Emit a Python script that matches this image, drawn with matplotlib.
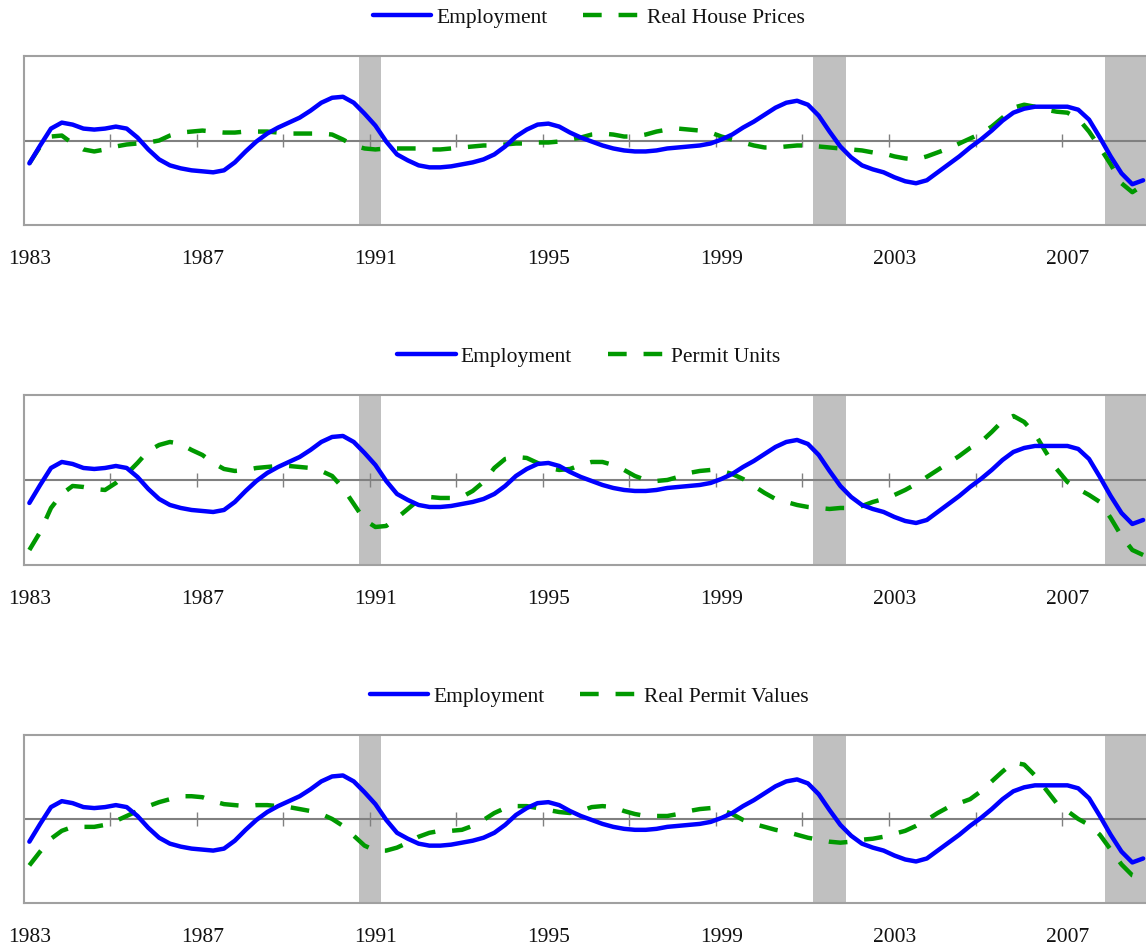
import numpy as np
import matplotlib
matplotlib.use("Agg")
import matplotlib.pyplot as plt

plt.rcParams['font.family'] = ['Liberation Serif', 'DejaVu Serif']

# quarterly observations, 1983Q1 .. 2008Q4 (plotted at mid-quarter)
quarters = 1983.125 + 0.25 * np.arange(104)

# cyclical components (index units), 2 years per row
employment = [
    -23, -5, 12, 18, 16, 12, 11, 12,
    14, 12, 3, -9, -19, -25, -28, -30,
    -31, -32, -30, -22, -11, -1, 7, 13,
    18, 23, 30, 38, 43, 44, 38, 27,
    15, -1, -14, -20, -25, -27, -27, -26,
    -24, -22, -19, -14, -6, 4, 11, 16,
    17, 14, 8, 3, -1, -5, -8, -10,
    -11, -11, -10, -8, -7, -6, -5, -3,
    1, 6, 13, 19, 26, 33, 38, 40,
    36, 25, 9, -6, -17, -25, -29, -32,
    -37, -41, -43, -40, -32, -24, -16, -7,
    1, 10, 20, 28, 32, 34, 34, 34,
    34, 31, 21, 3, -16, -33, -44, -40,
]
house_prices = [
    -23, -6, 4, 5, -3, -9, -11, -9,
    -6, -4, -3, -2, 0, 5, 8, 9,
    10, 9, 8, 8, 9, 9, 9, 8,
    7, 7, 7, 7, 6, 1, -5, -8,
    -9, -8, -8, -8, -8, -9, -9, -8,
    -7, -6, -5, -5, -4, -3, -3, -2,
    -2, -1, 1, 3, 6, 7, 6, 4,
    4, 6, 9, 11, 12, 11, 10, 8,
    4, 1, -2, -5, -7, -7, -6, -5,
    -5, -6, -7, -8, -9, -10, -12, -13,
    -16, -18, -19, -16, -12, -8, -3, 2,
    7, 14, 23, 33, 36, 34, 31, 29,
    28, 22, 9, -7, -24, -43, -52, -45,
]
permit_units = [
    -70, -52, -28, -14, -6, -7, -9, -10,
    -3, 6, 17, 29, 35, 38, 36, 30,
    25, 17, 11, 9, 10, 12, 13, 14,
    14, 13, 12, 9, 4, -8, -24, -40,
    -47, -46, -38, -29, -20, -17, -18, -18,
    -17, -11, -2, 12, 21, 23, 22, 17,
    12, 10, 11, 15, 18, 18, 15, 10,
    4, 0, -1, 0, 3, 7, 9, 10,
    9, 6, 1, -6, -13, -19, -22, -25,
    -27, -28, -29, -28, -28, -26, -22, -19,
    -15, -10, -4, 3, 10, 17, 24, 32,
    38, 48, 59, 64, 58, 46, 28, 11,
    -2, -9, -15, -22, -38, -56, -70, -75,
]
permit_values = [
    -47, -33, -20, -12, -8, -8, -8, -6,
    -2, 3, 8, 13, 17, 20, 23, 23,
    22, 18, 15, 14, 13, 14, 14, 13,
    12, 10, 8, 5, 0, -7, -17, -27,
    -32, -32, -29, -24, -18, -14, -12, -12,
    -11, -7, -1, 6, 11, 13, 13, 11,
    9, 7, 6, 8, 12, 13, 12, 8,
    5, 3, 3, 3, 5, 8, 10, 11,
    9, 5, -1, -5, -8, -11, -13, -16,
    -19, -21, -23, -24, -23, -21, -20, -18,
    -15, -12, -7, -1, 6, 12, 16, 20,
    28, 38, 48, 57, 55, 44, 30, 16,
    8, 0, -6, -16, -31, -46, -57, -60,
]

panels = [("Real House Prices", house_prices),
          ("Permit Units", permit_units),
          ("Real Permit Values", permit_values)]

recessions = [(1990.75, 1991.25), (2001.25, 2002.0), (2008.0, 2009.5)]
label_years = [1983, 1987, 1991, 1995, 1999, 2003, 2007]
tick_years = list(range(1985, 2009, 2))

fig = plt.figure(figsize=(11.46, 9.51), dpi=100)
# axes boxes (left, bottom, width, height) in figure fraction
boxes = [(0.0209, 0.7634, 0.9813, 0.1777),
         (0.0209, 0.4059, 0.9813, 0.1788),
         (0.0209, 0.0505, 0.9813, 0.1767)]

for (name, series), box in zip(panels, boxes):
    ax = fig.add_axes(box)
    for start, end in recessions:
        ax.axvspan(start, end, color='#c0c0c0', lw=0, zorder=0)
    ax.axhline(0, color='#808080', lw=1.5, zorder=1)
    ax.vlines(tick_years, -7, 7, color='#808080', lw=1.0, zorder=1)

    ax.plot(quarters, employment, color='#0000ff', lw=3.2,
            solid_capstyle='round', solid_joinstyle='round',
            label='Employment', zorder=3)
    ax.plot(quarters, series, color='#009900', lw=3.2,
            dashes=(4.2, 3.8), dash_capstyle='butt',
            label=name, zorder=2)

    ax.set_xlim(1983, 2009)
    ax.set_ylim(-85, 85)
    ax.set_yticks([])
    ax.set_xticks([y + 0.125 for y in label_years])
    ax.set_xticklabels([str(y) for y in label_years], fontsize=15.5,
                       color='#111111')
    ax.tick_params(axis='x', length=0, pad=18)
    for side in ax.spines.values():
        side.set_color('#a0a0a0')
        side.set_linewidth(1.5)

    ax.legend(loc='center', bbox_to_anchor=(0.5024, 1.226), ncol=2,
              frameon=False, fontsize=15.5, handlelength=2.7,
              handletextpad=0.25, columnspacing=1.65, borderpad=0,
              labelcolor='#111111')

fig.savefig('out.png', dpi=100)
